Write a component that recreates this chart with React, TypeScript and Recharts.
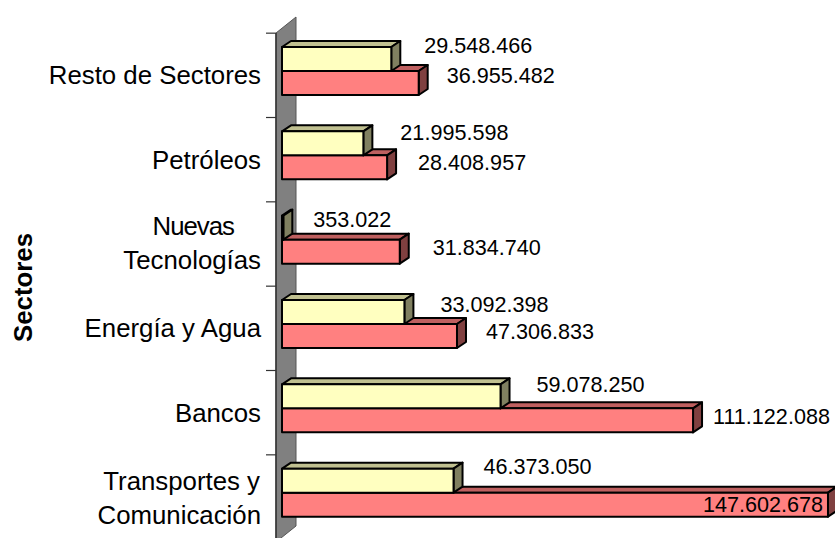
import React from "react";
import { BarChart, Bar, XAxis, YAxis, LabelList, Customized } from "recharts";

const categories = ["Resto de Sectores", "Petróleos", "Nuevas Tecnologías", "Energía y Agua", "Bancos", "Transportes y Comunicación"];
const yellowValues = [29548466, 21995598, 353022, 33092398, 59078250, 46373050];
const redValues = [36955482, 28408957, 31834740, 47306833, 111122088, 147602678];

const data = categories.map((name, i) => ({ name, yellow: yellowValues[i], red: redValues[i] }));

const FONT = "'Liberation Sans', Arial, sans-serif";
const DX = 9;
const DY = 6;

// label placement nudges relative to the bar end / bar centre
const yellowLabelDx = [33, 37, 30, 36, 36, 30];
const yellowLabelDy = [-14, -11, -8, -8, -12, -14];
const redLabelDx = [28, 31, 33, 29, 20, -125];
const redLabelDy = [-8, -5, -4, -5, -4, 0];

const fmt = (v: number) => String(v).replace(/\B(?=(\d{3})+(?!\d))/g, ".");

function Bar3D(props: any, front: string, top: string, side: string) {
  const { x, y, width, height } = props;
  const r = x + width;
  const b = y + height;
  return (
    <g stroke="#000" strokeWidth={2} strokeLinejoin="round">
      <polygon points={`${x},${y} ${x + DX},${y - DY} ${r + DX},${y - DY} ${r},${y}`} fill={top} />
      <polygon points={`${r},${y} ${r + DX},${y - DY} ${r + DX},${b - DY} ${r},${b}`} fill={side} />
      <rect x={x} y={y} width={width} height={height} fill={front} />
    </g>
  );
}

const makeLabel = (dxs: number[], dys: number[]) => (props: any) => {
  const { x, y, width, height, value, index } = props;
  return (
    <text x={x + width + dxs[index]} y={y + height / 2 + dys[index]} dominantBaseline="central"
      fontFamily={FONT} fontSize={21.6} fill="#000">{fmt(value)}</text>
  );
};

const CategoryTick = (props: any) => {
  const { y, payload } = props;
  const name: string = payload.value;
  const lines = name === "Nuevas Tecnologías"
    ? [{ t: "Nuevas", x: 234, dy: -5, ls: -1 }, { t: "Tecnologías", x: 261, dy: 29, ls: 0 }]
    : name === "Transportes y Comunicación"
      ? [{ t: "Transportes y", x: 260, dy: -3, ls: 0 }, { t: "Comunicación", x: 261, dy: 31, ls: 0 }]
      : [{ t: name, x: 261, dy: 13, ls: 0 }];
  return (
    <g>
      <line x1={266} x2={276} y1={y - 38} y2={y - 38} stroke="#333" strokeWidth={1.2} />
      {lines.map((l) => (
        <text key={l.t} x={l.x} y={y + l.dy} textAnchor="end" fontFamily={FONT} fontSize={25.8} letterSpacing={l.ls} fill="#000">{l.t}</text>
      ))}
    </g>
  );
};

const Wall = () => (
  <g>
    <polygon points="276,33 296,17 296,526 276,542" fill="#808080" stroke="#555" strokeWidth={1} />
    <line x1={276} x2={276} y1={33} y2={538} stroke="#333" strokeWidth={1.5} />
    <text transform="translate(32,287.5) rotate(-90)" textAnchor="middle" fontFamily={FONT} fontWeight="bold" fontSize={25.8} fill="#000">Sectores</text>
  </g>
);

export default function App() {
  return (
    <div style={{ position: "absolute", left: 0, top: 0, width: 835, height: 538, background: "#fff", overflow: "hidden" }}>
      <BarChart width={835} height={538} data={data} layout="vertical"
        margin={{ top: 29, right: 0, bottom: 3, left: 0 }} barSize={24} barGap={-48} barCategoryGap={0}>
        <Customized component={Wall} />
        <XAxis type="number" hide domain={[0, 149500000]} />
        <YAxis type="category" dataKey="name" width={282} axisLine={false} tickLine={false} tick={CategoryTick} interval={0} />
        <Bar dataKey="red" isAnimationActive={false} shape={(p: any) => Bar3D(p, "#FF8080", "#BF6060", "#804040")}>
          <LabelList dataKey="red" content={makeLabel(redLabelDx, redLabelDy)} />
        </Bar>
        <Bar dataKey="yellow" isAnimationActive={false} shape={(p: any) => Bar3D(p, "#FFFFC0", "#C0C090", "#808060")}>
          <LabelList dataKey="yellow" content={makeLabel(yellowLabelDx, yellowLabelDy)} />
        </Bar>
      </BarChart>
    </div>
  );
}
